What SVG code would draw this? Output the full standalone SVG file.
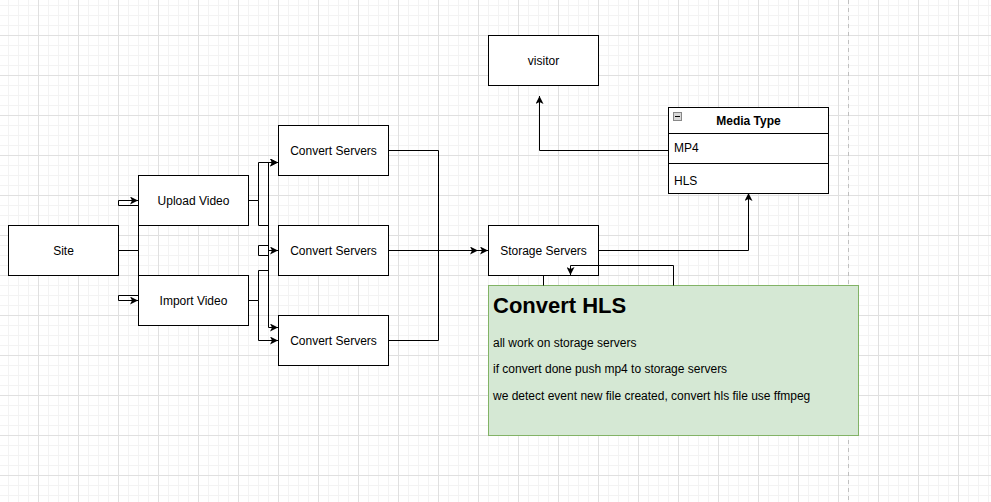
<svg xmlns="http://www.w3.org/2000/svg" width="991" height="502" viewBox="0 0 991 502">
<defs>
<pattern id="minor" x="8" y="5" width="10" height="10" patternUnits="userSpaceOnUse">
<path d="M0.5,0 V10 M0,0.5 H10" fill="none" stroke="#f3f3f3" stroke-width="1"/>
</pattern>
<pattern id="major" x="38" y="35" width="40" height="40" patternUnits="userSpaceOnUse">
<path d="M0.5,0 V40 M0,0.5 H40" fill="none" stroke="#e0e0e0" stroke-width="1"/>
</pattern>
<marker id="arr" viewBox="0 0 8 8" refX="8" refY="4" markerWidth="8" markerHeight="8" markerUnits="userSpaceOnUse" orient="auto">
<path d="M0,0 L8,4 L0,8 L2,4 Z" fill="#000"/>
</marker>
<style>
.box{fill:#fff;stroke:#000;stroke-width:1}
.t{font-family:"Liberation Sans",Arial,Helvetica,sans-serif;font-size:12px;fill:#000}
.c{text-anchor:middle;dominant-baseline:central}
.e{fill:none;stroke:#000;stroke-width:1}
.ea{fill:none;stroke:#000;stroke-width:1;marker-end:url(#arr)}
</style>
</defs>
<rect width="991" height="502" fill="#fff"/>
<rect width="991" height="502" fill="url(#minor)"/>
<rect width="991" height="502" fill="url(#major)"/>
<line x1="848.5" y1="0" x2="848.5" y2="502" stroke="#c0c0c0" stroke-dasharray="4,4"/>

<g id="site"><rect class="box" x="8.5" y="225.5" width="110" height="50"/><text class="t c" x="63.5" y="250.5">Site</text></g>
<g id="upload"><rect class="box" x="138.5" y="175.5" width="110" height="50"/><text class="t c" x="193.5" y="200.5">Upload Video</text></g>
<g id="import"><rect class="box" x="138.5" y="275.5" width="110" height="50"/><text class="t c" x="193.5" y="300.5">Import Video</text></g>
<g id="convert1"><rect class="box" x="278.5" y="125.5" width="110" height="50"/><text class="t c" x="333.5" y="150.5">Convert Servers</text></g>
<g id="convert2"><rect class="box" x="278.5" y="225.5" width="110" height="50"/><text class="t c" x="333.5" y="250.5">Convert Servers</text></g>
<g id="convert3"><rect class="box" x="278.5" y="315.5" width="110" height="50"/><text class="t c" x="333.5" y="340.5">Convert Servers</text></g>
<g id="storage"><rect class="box" x="488.5" y="225.5" width="110" height="50"/><text class="t c" x="543.5" y="250.5">Storage Servers</text></g>
<g id="visitor"><rect class="box" x="488.5" y="35.5" width="110" height="50"/><text class="t c" x="543.5" y="60.5">visitor</text></g>

<g id="mediatype">
<rect class="box" x="668.5" y="107.5" width="160" height="86"/>
<line x1="668.5" y1="133.5" x2="828.5" y2="133.5" stroke="#000"/>
<line x1="668.5" y1="163.5" x2="828.5" y2="163.5" stroke="#000"/>
<rect x="673.5" y="112.5" width="8" height="8" fill="#d8d8d8" stroke="#888"/>
<line x1="675" y1="116.5" x2="680" y2="116.5" stroke="#000"/>
<text class="t c" x="748.5" y="120.5" font-weight="bold">Media Type</text>
<text class="t" x="674" y="147.5" dominant-baseline="central">MP4</text>
<text class="t" x="674" y="180.5" dominant-baseline="central">HLS</text>
</g>

<g id="converthls">
<rect x="488.5" y="285.5" width="370" height="150" fill="#d5e8d4" stroke="#82b366"/>
<text class="t" x="493" y="313" font-weight="bold" style="font-size:22px">Convert HLS</text>
<text class="t" x="493" y="346.5">all work on storage servers</text>
<text class="t" x="493" y="373">if convert done push mp4 to storage servers</text>
<text class="t" x="493" y="399.5">we detect event new file created, convert hls file use ffmpeg</text>
</g>

<g id="connectors">
<path class="ea" d="M118.5,250.5 H138.5 V205.5 H118.5 V200.5 H138"/>
<path class="ea" d="M118.5,250.5 H138.5 V295.5 H118.5 V300.5 H138"/>
<path class="e" d="M248.5,200.5 H258.5 V162.5 M258.5,200.5 V225.5 H268.5 V327.5"/>
<path class="ea" d="M258.5,162.5 H278"/>
<path class="ea" d="M268.5,162.5 H278"/>
<path class="e" d="M268.5,162.5 V245.5"/>
<path class="e" d="M268.5,245.5 H258.5 V255.5 H268.5"/>
<path class="ea" d="M268.5,250.5 H278"/>
<path class="ea" d="M268.5,327.5 H278"/>
<path class="e" d="M248.5,300.5 H258.5 V270.5 H268.5 M258.5,300.5 V340.5"/>
<path class="ea" d="M258.5,340.5 H278"/>
<path class="e" d="M388.5,150.5 H438.5 V340.5 H388.5"/>
<path class="ea" d="M388.5,250.5 H478"/>
<path class="ea" d="M438.5,250.5 H488"/>
<path class="ea" d="M598.5,250.5 H748.5 V193"/>
<path class="ea" d="M668.5,150.5 H539.5 V96"/>
<path class="e" d="M543.5,275.5 V285.5"/>
<path class="ea" d="M673.5,285.5 V265.5 H570.5 V275"/>
</g>
</svg>
